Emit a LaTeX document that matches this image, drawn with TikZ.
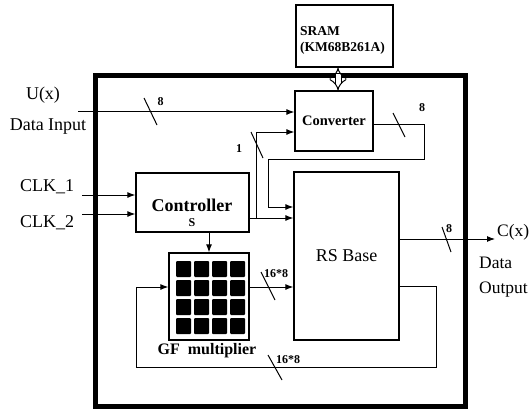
\documentclass[tikz,border=0pt]{standalone}
\usepackage{fontspec}
\setmainfont{Liberation Serif}
\usetikzlibrary{arrows.meta,positioning,calc}
\tikzset{
  blk/.style={draw=black,line width=1.3pt,inner sep=0pt,align=center},
  arr/.style={-{Latex[length=8pt,width=6pt]},line width=1pt},
  slash/.style={line width=1pt},
  num/.style={font=\fontsize{12}{12}\selectfont\bfseries,inner sep=0pt},
  lbl/.style={font=\fontsize{18}{20}\selectfont,inner sep=0pt},
  cell/.style={fill=black,rounded corners=1pt,minimum width=15pt,minimum height=16pt,inner sep=0pt},
  dbl/.style={double,double distance=5pt,line width=1pt,{Implies}-{Implies}},
}

\begin{document}
\begin{tikzpicture}[x=1pt,y=-1pt]
  \useasboundingbox (0,0) rectangle (532,409);
  % chip outline and blocks
  \node[draw,line width=5pt,minimum width=370pt,minimum height=330pt,inner sep=0pt] (chip) at (280,241) {};
  \node[blk,minimum width=97pt,minimum height=62pt] (sram) at (344.5,36) {};
  \node[font=\fontsize{13.5}{16}\selectfont\bfseries,align=left,inner sep=0pt] (sramtxt) at (342.5,40) {SRAM\\(KM68B261A)};
  \node[blk,minimum width=78pt,minimum height=60pt,font=\fontsize{14.5}{16}\selectfont\bfseries] (conv) at (334,121) {Converter};
  \node[blk,minimum width=113pt,minimum height=59pt] (ctrl) at (192.5,202.5) {};
  \node[font=\fontsize{18}{20}\selectfont\bfseries,inner sep=0pt] (ctrltxt) at (192,205) {Controller};
  \node[num] (ctrls) at (192,223) {S};
  \node[blk,minimum width=105pt,minimum height=168pt,font=\fontsize{18}{20}\selectfont] (rs) at (346.5,256) {RS Base};
  \node[blk,minimum width=80pt,minimum height=87pt] (gf) at (209,296.5) {};
  \foreach \i in {0,...,3} \foreach \j in {0,...,3} \node[cell] (c\i\j) at (183.5+18*\i,269+19*\j) {};
  \node[font=\fontsize{16}{18}\selectfont\bfseries,inner sep=0pt] (gftxt) at (207,351) {GF\ \ multiplier};

  % outside labels
  \node[lbl] (ux) at (43,95) {U(x)};
  \node[lbl] (dinl) at (48,127) {Data Input};
  \node[lbl] (clk1) at (47,187) {CLK\_1};
  \node[lbl] (clk2) at (47,223) {CLK\_2};
  \node[font=\fontsize{17.5}{19}\selectfont,inner sep=0pt,anchor=west] (cx) at (497,232) {C(x)};
  \node[font=\fontsize{17.5}{19}\selectfont,inner sep=0pt,anchor=west] (doutl) at (479,263) {Data};
  \node[font=\fontsize{17.5}{19}\selectfont,inner sep=0pt,anchor=west] (doutl2) at (479,290) {Output};

  % connectors
  \coordinate (din) at (78,112);
  \draw[arr] (din) -- (din -| conv.west);
  \coordinate (bus) at ([xshift=4pt]conv.north);
  \draw[dbl] (bus |- sram.south) -- (bus);
  \coordinate (k1) at (82,195);
  \coordinate (k2) at (82,214);
  \draw[arr] (k1) -- (k1 -| ctrl.west);
  \draw[arr] (k2) -- (k2 -| ctrl.west);
  \coordinate (co) at ([yshift=-15.5pt]ctrl.east);
  \draw[arr] (co) -- (co -| rs.west);
  \coordinate (tap) at (256,218);
  \coordinate (cin) at ([yshift=-11pt]conv.west);
  \draw[arr] (tap) |- (cin);
  \coordinate (cout) at ([yshift=-3pt]conv.east);
  \coordinate (rin) at ([yshift=49pt]rs.west);
  \draw[arr] (cout) -| (424,159) -| ($(rin)+(-25,0)$) -- (rin);
  \draw[arr] (gf.north |- ctrl.south) -- (gf.north);
  \coordinate (gout) at ([yshift=9.5pt]gf.east);
  \draw[arr] (gout) -- (gout -| rs.west);
  \coordinate (fb) at ([yshift=-30pt]rs.east);
  \coordinate (gin) at ([yshift=9.5pt]gf.west);
  \draw[arr] (fb) -| (436,367) -| ($(gin)+(-32,0)$) -- (gin);
  \coordinate (rout) at ([yshift=17pt]rs.east);
  \coordinate (dout) at (495,239);
  \draw[arr] (rout) -- (dout);

  % bus widths
  \draw[slash] (144,98) -- (157,125);  \node[num] (w1) at (160.5,102) {8};
  \draw[slash] (251,132) -- (263,158); \node[num] (w2) at (239,149) {1};
  \draw[slash] (393,113) -- (405,137); \node[num] (w3) at (422,108) {8};
  \draw[slash] (261,272) -- (275,300); \node[num] (w4) at (276,274) {16*8};
  \draw[slash] (268,355) -- (282,380); \node[num] (w5) at (288,360) {16*8};
  \draw[slash] (442,227) -- (451,252); \node[num] (w6) at (449,229) {8};
\end{tikzpicture}
\end{document}
